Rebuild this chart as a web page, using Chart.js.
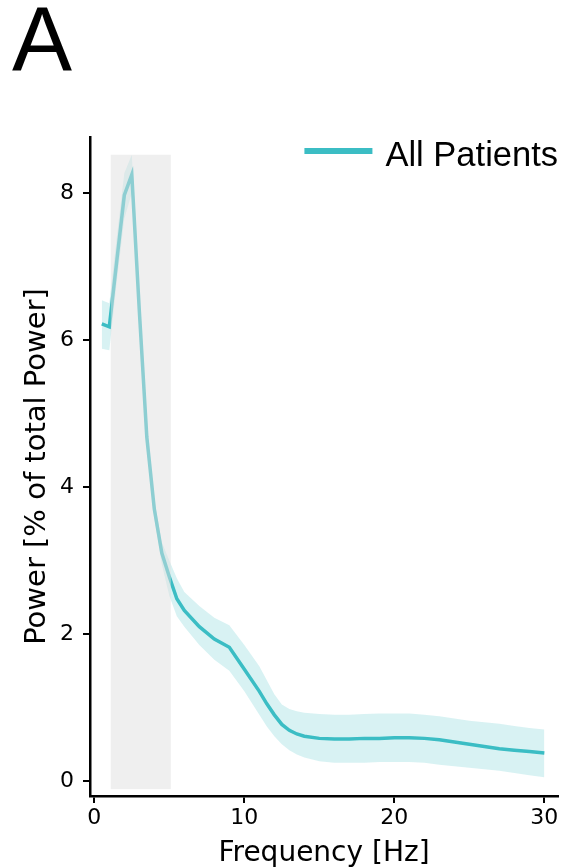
<!DOCTYPE html>
<html>
<head>
<meta charset="utf-8">
<title>Power spectrum</title>
<script src="https://cdn.jsdelivr.net/npm/chart.js@4.4.1/dist/chart.umd.min.js"></script>
<style>
  html, body { margin: 0; padding: 0; background: #ffffff; }
  canvas { display: block; }
</style>
</head>
<body>
<canvas id="psd" width="564" height="868"></canvas>
<script>
// Frequency bins (Hz)
const freqs = [0.5, 1, 1.5, 2, 2.5, 3, 3.5, 4, 4.5, 5, 5.5, 6,
  7, 8, 9, 10, 11, 11.5, 12, 12.5, 13, 13.5, 14, 15, 16, 17, 18, 19, 20,
  21, 22, 23, 24, 25, 26, 27, 28, 29, 30];

// Mean relative power across patients (% of total power)
const meanPower = [6.22, 6.18, 7.08, 7.97, 8.25, 6.40, 4.68, 3.70, 3.10, 2.78, 2.48, 2.32,
  2.10, 1.93, 1.82, 1.52, 1.22, 1.05, 0.90, 0.77, 0.69, 0.64, 0.61, 0.58, 0.57, 0.57, 0.58, 0.58, 0.59,
  0.59, 0.58, 0.56, 0.53, 0.50, 0.47, 0.44, 0.42, 0.40, 0.38];

// Confidence band
const upperCI = [6.54, 6.50, 7.40, 8.27, 8.52, 6.55, 4.82, 3.82, 3.25, 3.00, 2.76, 2.57,
  2.38, 2.22, 2.12, 1.85, 1.56, 1.37, 1.18, 1.04, 0.98, 0.95, 0.93, 0.91, 0.90, 0.90, 0.91, 0.92, 0.92,
  0.92, 0.90, 0.88, 0.85, 0.82, 0.80, 0.78, 0.75, 0.72, 0.70];
const lowerCI = [5.88, 5.86, 6.80, 7.65, 8.00, 6.25, 4.55, 3.58, 2.95, 2.52, 2.24, 2.10,
  1.85, 1.65, 1.50, 1.22, 0.90, 0.74, 0.61, 0.50, 0.42, 0.36, 0.32, 0.27, 0.25, 0.25, 0.25, 0.26, 0.26,
  0.26, 0.25, 0.22, 0.20, 0.18, 0.16, 0.14, 0.11, 0.08, 0.05];

// Axis ticks
const xTickValues = [0, 10, 20, 30];
const yTickValues = [0, 2, 4, 6, 8];

// Highlighted frequency band (Hz) and its vertical extent (% power)
const bandFreqRange = [1.1, 5.1];
const bandPowerRange = [-0.11, 8.52];

const seriesLabel = 'All Patients';
const panelLetter = 'A';

const TEAL = '#3bbdc4';
const toPoints = ys => freqs.map((f, i) => ({ x: f, y: ys[i] }));

// Grey shaded band drawn over the data
const bandPlugin = {
  id: 'bandShade',
  afterDatasetsDraw(chart) {
    const { ctx, scales: { x, y } } = chart;
    const x0 = x.getPixelForValue(bandFreqRange[0]);
    const x1 = x.getPixelForValue(bandFreqRange[1]);
    const y0 = y.getPixelForValue(bandPowerRange[1]);
    const y1 = y.getPixelForValue(bandPowerRange[0]);
    ctx.save();
    ctx.fillStyle = 'rgba(224,224,224,0.5)';
    ctx.fillRect(x0, y0, x1 - x0, y1 - y0);
    ctx.restore();
  }
};

// Panel letter and in-plot legend
const decorPlugin = {
  id: 'decor',
  afterDraw(chart) {
    const { ctx, chartArea } = chart;
    ctx.save();
    ctx.fillStyle = '#000';
    ctx.font = '90px "Liberation Sans", Arial, sans-serif';
    ctx.textBaseline = 'alphabetic';
    ctx.textAlign = 'left';
    ctx.fillText(panelLetter, 12, 70);

    const label = chart.data.datasets[0].label;
    ctx.font = '34.5px "Liberation Sans", Arial, sans-serif';
    const tw = ctx.measureText(label).width;
    const tx = chartArea.right - tw;
    ctx.fillText(label, tx, 166);
    ctx.strokeStyle = chart.data.datasets[0].borderColor;
    ctx.lineWidth = 6;
    ctx.lineCap = 'butt';
    ctx.beginPath();
    ctx.moveTo(tx - 81, 151);
    ctx.lineTo(tx - 13, 151);
    ctx.stroke();
    ctx.restore();
  }
};

const axisFont = { family: '"DejaVu Sans", sans-serif', size: 22 };

new Chart(document.getElementById('psd'), {
  type: 'line',
  data: {
    datasets: [
      {
        label: seriesLabel,
        data: toPoints(meanPower),
        borderColor: TEAL,
        borderWidth: 3.5,
        pointRadius: 0,
        fill: false,
        tension: 0
      },
      {
        label: 'upper',
        data: toPoints(upperCI),
        borderWidth: 0,
        borderColor: 'rgba(0,0,0,0)',
        pointRadius: 0,
        backgroundColor: 'rgba(59,189,196,0.2)',
        fill: '+1',
        tension: 0
      },
      {
        label: 'lower',
        data: toPoints(lowerCI),
        borderWidth: 0,
        borderColor: 'rgba(0,0,0,0)',
        pointRadius: 0,
        fill: false,
        tension: 0
      }
    ]
  },
  options: {
    responsive: false,
    devicePixelRatio: 1,
    animation: false,
    layout: { padding: { top: 137, right: 6, bottom: 0, left: 0 } },
    plugins: {
      legend: { display: false },
      tooltip: { enabled: false }
    },
    scales: {
      x: {
        type: 'linear',
        min: -0.287,
        max: 30.91,
        afterBuildTicks: s => { s.ticks = xTickValues.map(v => ({ value: v })); },
        afterFit: s => { s.height = 72; },
        border: { display: true, color: '#000', width: 2.5 },
        grid: { display: true, drawOnChartArea: false, drawTicks: true, tickLength: 7, color: '#000', lineWidth: 2 },
        ticks: { color: '#000', font: axisFont, padding: 2, maxRotation: 0 },
        title: {
          display: true, text: 'Frequency [Hz]', color: '#000',
          font: { family: '"DejaVu Sans", sans-serif', size: 28 },
          padding: { top: 0, bottom: -3 }
        }
      },
      y: {
        type: 'linear',
        min: -0.204,
        max: 8.762,
        afterBuildTicks: s => { s.ticks = yTickValues.map(v => ({ value: v })); },
        afterFit: s => { s.width = 90; },
        border: { display: true, color: '#000', width: 2.5 },
        grid: { display: true, drawOnChartArea: false, drawTicks: true, tickLength: 7, color: '#000', lineWidth: 2 },
        ticks: { color: '#000', font: axisFont, padding: 9 },
        title: {
          display: true, text: 'Power [% of total Power]', color: '#000',
          font: { family: '"DejaVu Sans", sans-serif', size: 29 },
          padding: { top: 20, bottom: 0 }
        }
      }
    }
  },
  plugins: [bandPlugin, decorPlugin]
});
</script>
</body>
</html>
